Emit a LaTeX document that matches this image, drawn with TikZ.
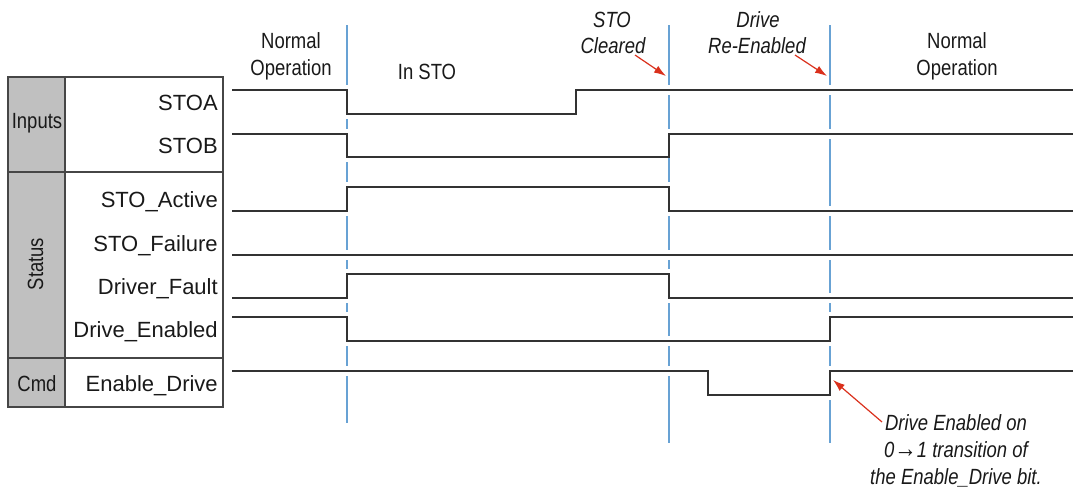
\documentclass[tikz,border=0pt]{standalone}
\usepackage{fontspec}
\setmainfont{Liberation Sans}
\newfontfamily\condfont[FakeStretch=0.84]{Liberation Sans}
\usetikzlibrary{arrows.meta}
\definecolor{sig}{RGB}{50,50,50}
\definecolor{markblue}{RGB}{104,162,212}
\definecolor{notered}{RGB}{218,48,28}
\definecolor{cellgray}{RGB}{192,192,192}
\definecolor{rulegray}{RGB}{70,70,70}
\begin{document}
\begin{tikzpicture}[x=0.75pt,y=-0.75pt,
  lbl/.style={font=\fontsize{16.5}{20}\selectfont, inner sep=0pt, anchor=base east, text=black!90},
  hdr/.style={font=\condfont\fontsize{16.5}{20}\selectfont, inner sep=0pt, anchor=base, text=black!90},
  ital/.style={font=\condfont\itshape\fontsize{16.5}{20}\selectfont, inner sep=0pt, anchor=base, text=black!90},
  signal/.style={draw=sig, line width=1.1pt, line join=miter},
  halo/.style={draw=white, line width=7.5pt},
  marker/.style={draw=markblue, line width=1.5pt},
  callout/.style={draw=notered, line width=0.9pt, -{Latex[length=9pt,width=6pt]}},
  tablerule/.style={draw=rulegray, line width=1.1pt}]
\useasboundingbox (0,0) rectangle (1073,489);

% ---- table ----
\fill[cellgray] (8,77) rectangle (65,407);
\draw[tablerule] (8,77) rectangle (223,407);
\draw[tablerule] (65,77) -- (65,407);
\draw[tablerule] (8,172) -- (223,172);
\draw[tablerule] (8,358) -- (223,358);

\node[hdr] (inputs) at (37,128) {Inputs};
\node[hdr, rotate=90] (status) at (43,264) {Status};
\node[hdr] (cmd) at (37,391) {Cmd};

\node[lbl] (stoa) at (218,110) {STOA};
\node[lbl] (stob) at (218,153) {STOB};
\node[lbl] (stoact) at (218,207) {STO\_Active};
\node[lbl] (stofail) at (218,251) {STO\_Failure};
\node[lbl] (drvfault) at (218,294) {Driver\_Fault};
\node[lbl] (drven) at (218,337) {Drive\_Enabled};
\node[lbl] (endrv) at (218,391) {Enable\_Drive};

% ---- headers ----
\node[hdr] (no1a) at (291,48) {Normal};
\node[hdr] (no1b) at (291,75) {Operation};
\node[hdr] (insto) at (427,79) {In STO};
\node[ital] (clra) at (612,27) {STO};
\node[ital] (clrb) at (613,53) {Cleared};
\node[ital] (rena) at (758,27) {Drive};
\node[ital] (renb) at (757,53) {Re-Enabled};
\node[hdr] (no2a) at (957,48) {Normal};
\node[hdr] (no2b) at (957,75) {Operation};

% ---- event markers ----
\coordinate (m1t) at (347,25); \coordinate (m1b) at (347,423);
\coordinate (m2t) at (669,25); \coordinate (m2b) at (669,443);
\coordinate (m3t) at (830,25); \coordinate (m3b) at (830,443);
\draw[marker] (m1t) -- (m1b);
\draw[marker] (m2t) -- (m2b);
\draw[marker] (m3t) -- (m3b);

% ---- halos (gaps in markers) ----
\draw[halo] (232,90) -- (347,90) -- (347,114) -- (576,114) -- (576,90) -- (1073,90);
\draw[halo] (232,134) -- (347,134) -- (347,157) -- (664,157);
\draw[halo] (664,134) -- (1073,134);
\draw[halo] (232,211) -- (347,211) -- (347,187) -- (669,187) -- (669,211) -- (1073,211);
\draw[halo] (232,255) -- (1073,255);
\draw[halo] (232,298) -- (347,298) -- (347,274) -- (669,274) -- (669,298) -- (1073,298);
\draw[halo] (232,317) -- (347,317) -- (347,341) -- (830,341) -- (830,317) -- (1073,317);
\draw[halo] (232,371) -- (708,371) -- (708,395) -- (830,395) -- (830,371) -- (1073,371);

% ---- signals ----
\draw[signal] (232,90) -- (347,90) -- (347,114) -- (576,114) -- (576,90) -- (1073,90);
\draw[signal] (232,134) -- (347,134) -- (347,157) -- (669,157) -- (669,134) -- (1073,134);
\draw[signal] (232,211) -- (347,211) -- (347,187) -- (669,187) -- (669,211) -- (1073,211);
\draw[signal] (232,255) -- (1073,255);
\draw[signal] (232,298) -- (347,298) -- (347,274) -- (669,274) -- (669,298) -- (1073,298);
\draw[signal] (232,317) -- (347,317) -- (347,341) -- (830,341) -- (830,317) -- (1073,317);
\draw[signal] (232,371) -- (708,371) -- (708,395) -- (830,395) -- (830,371) -- (1073,371);

% ---- callouts ----
\coordinate (c1s) at (635,55); \coordinate (c1e) at (666,76);
\coordinate (c2s) at (795,55); \coordinate (c2e) at (827,76);
\coordinate (c3s) at (882,422); \coordinate (c3e) at (833,380);
\draw[callout] (c1s) -- (c1e);
\draw[callout] (c2s) -- (c2e);
\draw[callout] (c3s) -- (c3e);

\node[ital] (nota) at (956,430) {Drive Enabled on};
\node[ital] (notb) at (956,457) {0{\fontsize{20}{20}\selectfont→}1 transition of};
\node[ital] (notc) at (956,484) {the Enable\_Drive bit.};
\end{tikzpicture}
\end{document}
